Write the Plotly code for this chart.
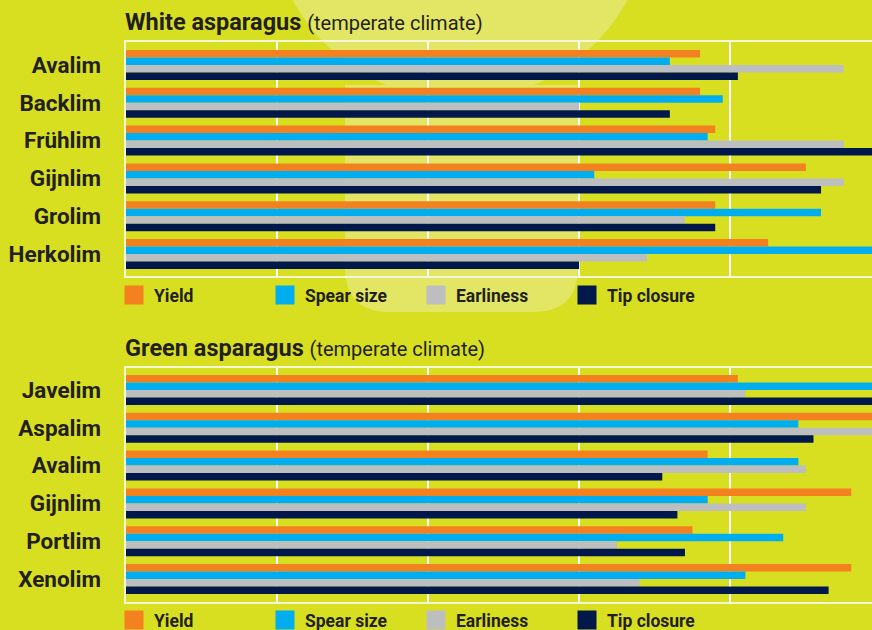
import plotly.graph_objects as go

# ---- data ----
series = ["Yield", "Spear size", "Earliness", "Tip closure"]
colors = ["#f48120", "#00aeef", "#bcbec0", "#00194a"]

white_varieties = ["Avalim", "Backlim", "Frühlim", "Gijnlim", "Grolim", "Herkolim"]
white_yield = [3.80, 3.80, 3.90, 4.50, 3.90, 4.25]
white_spear = [3.60, 3.95, 3.85, 3.10, 4.60, 5.00]
white_early = [4.75, 3.00, 4.75, 4.75, 3.70, 3.45]
white_tip = [4.05, 3.60, 5.00, 4.60, 3.90, 3.00]

green_varieties = ["Javelim", "Aspalim", "Avalim", "Gijnlim", "Portlim", "Xenolim"]
green_yield = [4.05, 5.00, 3.85, 4.80, 3.75, 4.80]
green_spear = [5.00, 4.45, 4.45, 3.85, 4.35, 4.10]
green_early = [4.10, 5.00, 4.50, 4.50, 3.25, 3.40]
green_tip = [5.00, 4.55, 3.55, 3.65, 3.70, 4.65]

BG = "#d8df20"
LIGHT = "#e2e664"
TEXT = "#231f20"
FONT = "Roboto"
W, H = 872, 630


def px(x):
    return x / W


def py(y):
    return 1 - y / H


fig = go.Figure()

white_vals = [white_yield, white_spear, white_early, white_tip]
green_vals = [green_yield, green_spear, green_early, green_tip]

for name, col, vals in zip(series, colors, white_vals):
    fig.add_trace(go.Bar(orientation="h", x=vals, y=white_varieties, name=name,
                         marker=dict(color=col, line=dict(width=0)),
                         showlegend=False, xaxis="x", yaxis="y"))
for name, col, vals in zip(series, colors, green_vals):
    fig.add_trace(go.Bar(orientation="h", x=vals, y=green_varieties, name=name,
                         marker=dict(color=col, line=dict(width=0)),
                         showlegend=False, xaxis="x2", yaxis="y2"))

# legend entries (square swatches)
for lg, xa, ya in [("legend", "x", "y"), ("legend2", "x2", "y2")]:
    for name, col in zip(series, colors):
        fig.add_trace(go.Scatter(x=[None], y=[None], mode="markers", name=name,
                                 marker=dict(symbol="square", size=16, color=col,
                                             line=dict(width=3, color=col)),
                                 legend=lg, showlegend=True, xaxis=xa, yaxis=ya,
                                 hoverinfo="skip"))

xrange = [0, 4.937]
xaxis_common = dict(range=xrange, showgrid=True, gridcolor="white", gridwidth=1.5,
                    dtick=1, tick0=0, showticklabels=False, ticks="", zeroline=False,
                    showline=True, linecolor="#f4f6d8", linewidth=2, mirror=True,
                    fixedrange=True)
yaxis_common = dict(type="category", showgrid=False, zeroline=False, ticks="",
                    showline=True, linecolor="#f4f6d8", linewidth=2, mirror=False,
                    tickfont=dict(family=FONT, size=22.5, color=TEXT, weight="bold"),
                    ticklabelstandoff=18, fixedrange=True)

legend_common = dict(orientation="h", xanchor="left", yanchor="middle",
                     bgcolor="rgba(0,0,0,0)", entrywidth=106, entrywidthmode="pixels",
                     font=dict(family=FONT, size=17.5, color=TEXT, weight="bold"),
                     itemclick=False, itemdoubleclick=False)

fig.update_layout(
    width=W, height=H,
    margin=dict(l=0, r=0, t=0, b=0, autoexpand=False),
    paper_bgcolor=BG, plot_bgcolor="rgba(0,0,0,0)",
    barmode="group", bargap=0.206, bargroupgap=0,
    xaxis=dict(domain=[px(125.5), 1], anchor="y", **xaxis_common),
    yaxis=dict(domain=[py(276), py(42)], anchor="x", range=[5.582, -0.608],
               **yaxis_common),
    xaxis2=dict(domain=[px(125.5), 1], anchor="y2", **xaxis_common),
    yaxis2=dict(domain=[py(602), py(368)], anchor="x2", range=[5.608, -0.582],
                **yaxis_common),
    legend=dict(x=px(114), y=py(295), **legend_common),
    legend2=dict(x=px(114), y=py(620), **legend_common),
    showlegend=True,
)

# panel titles
for title, yc in [("White asparagus", 22), ("Green asparagus", 348)]:
    fig.add_annotation(
        text=f"<b>{title}</b> <span style='font-size:20px'>(temperate climate)</span>",
        xref="paper", yref="paper", x=px(123), y=py(yc), xanchor="left", yanchor="middle",
        showarrow=False, font=dict(family=FONT, size=23.5, color=TEXT))

# faint background decoration
fig.add_shape(type="circle", xref="paper", yref="paper",
              x0=px(270), x1=px(650), y0=py(100), y1=py(-280),
              fillcolor=LIGHT, line=dict(width=0), layer="below")
x0, x1, y0, y1, r = 345, 578, 85, 312, 45
path = (f"M {px(x0)},{py(y0)} L {px(x1)},{py(y0)} L {px(x1)},{py(y1 - r)} "
        f"Q {px(x1)},{py(y1)} {px(x1 - r)},{py(y1)} L {px(x0 + r)},{py(y1)} "
        f"Q {px(x0)},{py(y1)} {px(x0)},{py(y1 - r)} Z")
fig.add_shape(type="path", xref="paper", yref="paper", path=path,
              fillcolor=LIGHT, line=dict(width=0), layer="below")

fig.write_html("out.html",
               config={"displayModeBar": False},
               post_script="document.body.style.margin='0';"
                           "document.body.style.background='#d8df20';")
